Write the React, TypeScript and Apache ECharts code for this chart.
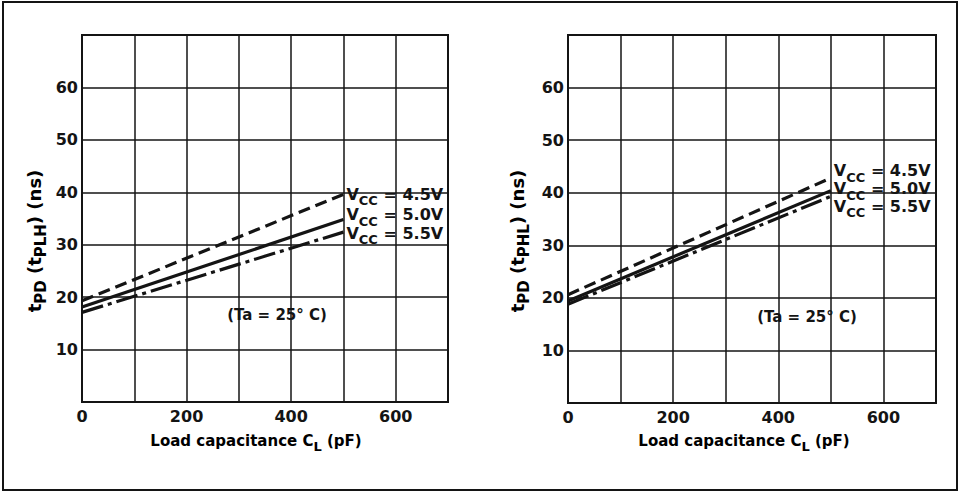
import React, { useEffect, useRef } from "react";
import * as echarts from "echarts";

// ---- data ----
const xTickLabels = ["0", "200", "400", "600"];
const yTickLabels = ["10", "20", "30", "40", "50", "60"];

// left panel: tPLH
const leftVcc45: number[][] = [[0, 19.3], [500, 39.6]];
const leftVcc50: number[][] = [[0, 18.1], [500, 34.8]];
const leftVcc55: number[][] = [[0, 17.1], [500, 32.4]];
// right panel: tPHL
const rightVcc45: number[][] = [[0, 20.6], [500, 42.8]];
const rightVcc50: number[][] = [[0, 19.4], [500, 40.4]];
const rightVcc55: number[][] = [[0, 18.8], [500, 39.3]];

const vccNames = ["4.5V", "5.0V", "5.5V"];

const FONT = "DejaVu Sans, Liberation Sans, Arial, sans-serif";
const INK = "#141414";

const subRich = {
  v: { fontFamily: FONT, fontSize: 16, fontWeight: "bold", color: INK, lineHeight: 16, verticalAlign: "top" },
  s: {
    fontFamily: FONT,
    fontSize: 13,
    fontWeight: "bold",
    color: INK,
    lineHeight: 16,
    verticalAlign: "top",
    padding: [8, 0, 0, 0],
  },
};

const xNameRich = {
  v: { fontFamily: FONT, fontSize: 15, fontWeight: "bold", color: INK, lineHeight: 16, verticalAlign: "top" },
  s: {
    fontFamily: FONT,
    fontSize: 13,
    fontWeight: "bold",
    color: INK,
    lineHeight: 16,
    verticalAlign: "top",
    padding: [7, 0, 0, 0],
  },
};

const yNameRich = {
  v: { fontFamily: FONT, fontSize: 18, fontWeight: "bold", color: INK, lineHeight: 18, verticalAlign: "top" },
  s: {
    fontFamily: FONT,
    fontSize: 15,
    fontWeight: "bold",
    color: INK,
    lineHeight: 18,
    verticalAlign: "top",
    padding: [8, 0, 0, 0],
  },
};

function makeSeries(data: number[][], idx: number, name: string, dash: any, labelDy: number) {
  return {
    type: "line",
    xAxisIndex: idx,
    yAxisIndex: idx,
    data,
    symbol: "none",
    silent: true,
    lineStyle: { color: INK, width: 3.2, type: dash, cap: "butt" },
    endLabel: {
      show: true,
      formatter: "{v|V}{s|CC}{v| = " + name + "}",
      distance: 3,
      offset: [0, labelDy],
      rich: subRich,
    },
  };
}

export default function App() {
  const ref = useRef<HTMLDivElement>(null);
  useEffect(() => {
    if (!ref.current) return;
    const chart = echarts.init(ref.current, null, { renderer: "svg" });
    const xAxisBase = (gi: number) => ({
      type: "value",
      gridIndex: gi,
      min: 0,
      max: 700,
      interval: 100,
      axisLine: { show: true, onZero: false, lineStyle: { color: INK, width: 2 } },
      axisTick: { show: false },
      splitLine: { show: true, lineStyle: { color: INK, width: 1.5 } },
      axisLabel: {
        margin: 6,
        fontFamily: FONT,
        fontSize: 16,
        fontWeight: "bold",
        color: INK,
        formatter: (v: number) => (xTickLabels.includes(String(v)) ? String(v) : ""),
      },
    });
    const yAxisBase = (gi: number) => ({
      type: "value",
      gridIndex: gi,
      min: 0,
      max: 70,
      interval: 10,
      axisLine: { show: true, lineStyle: { color: INK, width: 2 } },
      axisTick: { show: false },
      splitLine: { show: true, lineStyle: { color: INK, width: 1.5 } },
      axisLabel: {
        margin: 4,
        fontFamily: FONT,
        fontSize: 16,
        fontWeight: "bold",
        color: INK,
        formatter: (v: number) => (yTickLabels.includes(String(v)) ? String(v) : ""),
      },
    });
    const option: any = {
      animation: false,
      backgroundColor: "#ffffff",
      grid: [
        { left: 82, top: 35, width: 366, height: 367, show: true, borderColor: INK, borderWidth: 2 },
        { left: 568, top: 35, width: 368, height: 368, show: true, borderColor: INK, borderWidth: 2 },
      ],
      xAxis: [xAxisBase(0), xAxisBase(1)],
      yAxis: [yAxisBase(0), yAxisBase(1)],
      series: [
        makeSeries(leftVcc45, 0, vccNames[0], [12, 6], 0),
        makeSeries(leftVcc50, 0, vccNames[1], "solid", -5),
        makeSeries(leftVcc55, 0, vccNames[2], [22, 5, 4, 5], 1),
        makeSeries(rightVcc45, 1, vccNames[0], [12, 6], -7),
        makeSeries(rightVcc50, 1, vccNames[1], "solid", -2),
        makeSeries(rightVcc55, 1, vccNames[2], [22, 5, 4, 5], 10),
      ],
      graphic: [
        {
          type: "rect",
          shape: { x: 3, y: 2, width: 954, height: 488 },
          style: { fill: "none", stroke: INK, lineWidth: 2 },
          silent: true,
        },
        {
          type: "text",
          x: 256,
          y: 441,
          style: {
            text: "{v|Load capacitance C}{s|L}{v| (pF)}",
            align: "center",
            verticalAlign: "middle",
            rich: xNameRich,
          },
        },
        {
          type: "text",
          x: 744,
          y: 441,
          style: {
            text: "{v|Load capacitance C}{s|L}{v| (pF)}",
            align: "center",
            verticalAlign: "middle",
            rich: xNameRich,
          },
        },
        {
          type: "text",
          x: 34,
          y: 241,
          rotation: Math.PI / 2,
          style: {
            text: "{v|t}{s|PD}{v| (t}{s|PLH}{v|) (ns)}",
            align: "center",
            verticalAlign: "middle",
            rich: yNameRich,
          },
        },
        {
          type: "text",
          x: 517,
          y: 241,
          rotation: Math.PI / 2,
          style: {
            text: "{v|t}{s|PD}{v| (t}{s|PHL}{v|) (ns)}",
            align: "center",
            verticalAlign: "middle",
            rich: yNameRich,
          },
        },
        {
          type: "text",
          x: 277,
          y: 315,
          style: {
            text: "(Ta = 25° C)",
            align: "center",
            verticalAlign: "middle",
            fontFamily: FONT,
            fontSize: 15,
            fontWeight: "bold",
            fill: INK,
          },
        },
        {
          type: "text",
          x: 807,
          y: 317,
          style: {
            text: "(Ta = 25° C)",
            align: "center",
            verticalAlign: "middle",
            fontFamily: FONT,
            fontSize: 15,
            fontWeight: "bold",
            fill: INK,
          },
        },
      ],
    };
    chart.setOption(option);
    return () => chart.dispose();
  }, []);
  return (
    <div
      ref={ref}
      style={{ position: "absolute", left: 0, top: 0, width: 960, height: 492, background: "#fff" }}
    />
  );
}
